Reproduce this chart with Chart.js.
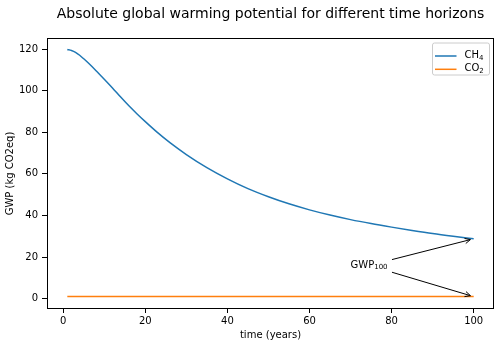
<!DOCTYPE html>
<html>
<head>
<meta charset="utf-8">
<script src="https://cdn.jsdelivr.net/npm/chart.js@4.4.0/dist/chart.umd.min.js"></script>
<style>
html, body { margin: 0; padding: 0; background: #fff; }
#wrap { width: 500px; height: 347px; }
</style>
</head>
<body>
<div id="wrap"><canvas id="gwpChart" width="500" height="347"></canvas></div>
<script>
// values
const years = [1, 2, 3, 4, 5, 6, 8, 10, 12, 14, 16, 18, 20, 23, 26, 30, 35, 40, 45, 50, 55, 60, 65, 70, 75, 80, 85, 90, 95, 100];
const ch4Gwp = [119.8, 119.3, 118.4, 117.0, 115.3, 113.5, 109.6, 105.5, 101.3, 96.9, 92.7, 88.8, 85.1, 79.8, 75.0, 69.3, 63.0, 57.6, 52.9, 49.0, 45.6, 42.7, 40.2, 38.0, 36.1, 34.4, 32.8, 31.3, 30.0, 28.8];
const co2Years = [1, 100];
const co2Gwp = [1, 1];
const xTicks = [0, 20, 40, 60, 80, 100];
const yTicks = [0, 20, 40, 60, 80, 100, 120];

const titleText = 'Absolute global warming potential for different time horizons';
const annotText = 'GWP₁₀₀';
const annotAt = { x: 70, y: 16 };

const FONT = "'DejaVu Sans', sans-serif";
const SUBS = '₀₁₂₃₄₅₆₇₈₉';

function toPoints(xs, ys) {
    return xs.map((v, i) => ({ x: v, y: ys[i] }));
}

// draws text with unicode subscript digits as smaller lowered digits, like mathtext
function drawSubText(ctx, text, x, y, size) {
    let cur = x;
    for (const ch of text) {
        const k = SUBS.indexOf(ch);
        if (k >= 0) {
            ctx.font = (size * 0.7) + 'px ' + FONT;
            ctx.fillText(String(k), cur, y + size * 0.22);
            cur += ctx.measureText(String(k)).width;
        } else {
            ctx.font = size + 'px ' + FONT;
            ctx.fillText(ch, cur, y);
            cur += ctx.measureText(ch).width;
        }
    }
    return cur - x;
}

function arrow(ctx, x1, y1, x2, y2) {
    const ang = Math.atan2(y2 - y1, x2 - x1);
    const head = 6;
    ctx.beginPath();
    ctx.moveTo(x1, y1);
    ctx.lineTo(x2, y2);
    ctx.moveTo(x2 - head * Math.cos(ang - 0.45), y2 - head * Math.sin(ang - 0.45));
    ctx.lineTo(x2, y2);
    ctx.lineTo(x2 - head * Math.cos(ang + 0.45), y2 - head * Math.sin(ang + 0.45));
    ctx.stroke();
}

const overlay = {
    id: 'overlay',
    afterDraw(chart) {
        const ctx = chart.ctx;
        const a = chart.chartArea;
        const x = chart.scales.x, y = chart.scales.y;
        ctx.save();

        // frame
        ctx.strokeStyle = '#000';
        ctx.lineWidth = 1;
        ctx.strokeRect(Math.round(a.left) + 0.5, Math.round(a.top) + 0.5,
            Math.round(a.right - a.left) - 1, Math.round(a.bottom - a.top) - 1);

        // title
        ctx.fillStyle = '#000';
        ctx.font = '14px ' + FONT;
        ctx.textAlign = 'center';
        ctx.textBaseline = 'middle';
        ctx.fillText(titleText, (a.left + a.right) / 2, 14);

        // legend
        const bx = a.right - 62, by = a.top + 4.5, bw = 57, bh = 32;
        ctx.beginPath();
        ctx.roundRect(bx + 0.5, by + 0.5, bw, bh, 2);
        ctx.fillStyle = 'rgba(255,255,255,0.8)';
        ctx.fill();
        ctx.strokeStyle = '#cccccc';
        ctx.stroke();
        ctx.textAlign = 'left';
        chart.data.datasets.forEach((ds, i) => {
            const ly = by + 13.5 + i * 13.3;
            ctx.strokeStyle = ds.borderColor;
            ctx.lineWidth = 1.5;
            ctx.beginPath();
            ctx.moveTo(bx + 3, ly);
            ctx.lineTo(bx + 24.5, ly);
            ctx.stroke();
            ctx.fillStyle = '#000';
            drawSubText(ctx, ds.label, bx + 32.5, ly - 0.5, 10);
        });

        // annotation
        ctx.textAlign = 'left';
        ctx.textBaseline = 'middle';
        ctx.fillStyle = '#000';
        const tx = x.getPixelForValue(annotAt.x), ty = y.getPixelForValue(annotAt.y);
        const tw = drawSubText(ctx, annotText, tx, ty, 10);
        const cx = tx + tw / 2, cy = ty;
        ctx.strokeStyle = '#000';
        ctx.lineWidth = 1;
        chart.data.datasets.forEach(ds => {
            const last = ds.data[ds.data.length - 1];
            const px = x.getPixelForValue(last.x), py = y.getPixelForValue(last.y);
            const t = (tw / 2 + 4.4) / (px - cx);
            const sx = cx + t * (px - cx), sy = cy + t * (py - cy);
            const len = Math.hypot(px - sx, py - sy);
            const ex = px - 3.4 * (px - sx) / len, ey = py - 3.4 * (py - sy) / len;
            arrow(ctx, sx, sy, ex, ey);
        });

        ctx.restore();
    }
};

const tickFont = { family: FONT, size: 10 };

new Chart(document.getElementById('gwpChart').getContext('2d'), {
    type: 'line',
    data: {
        datasets: [{
            label: 'CH₄',
            data: toPoints(years, ch4Gwp),
            borderColor: '#1f77b4',
            borderWidth: 1.5,
            pointRadius: 0,
            cubicInterpolationMode: 'monotone',
            fill: false
        }, {
            label: 'CO₂',
            data: toPoints(co2Years, co2Gwp),
            borderColor: '#ff7f0e',
            borderWidth: 1.5,
            pointRadius: 0,
            fill: false
        }]
    },
    options: {
        responsive: false,
        animation: false,
        devicePixelRatio: 1,
        layout: { padding: { top: 38, right: 6, left: 0, bottom: 0 } },
        plugins: {
            legend: { display: false },
            title: { display: false },
            tooltip: { enabled: false }
        },
        scales: {
            x: {
                type: 'linear',
                min: -3.95,
                max: 104.95,
                afterBuildTicks: s => { s.ticks = xTicks.map(v => ({ value: v })); },
                afterFit: s => { s.height = 38; },
                grid: { drawOnChartArea: false, drawTicks: true, tickLength: 4, color: '#000' },
                border: { display: false },
                ticks: { font: tickFont, color: '#000', padding: 2, maxRotation: 0 },
                title: { display: true, text: 'time (years)', font: tickFont, color: '#000', padding: { top: 0, bottom: 6 } }
            },
            y: {
                min: -4.95,
                max: 125.3,
                afterBuildTicks: s => { s.ticks = yTicks.map(v => ({ value: v })); },
                afterFit: s => { s.width = 47; },
                grid: { drawOnChartArea: false, drawTicks: true, tickLength: 5, color: '#000' },
                border: { display: false },
                ticks: { font: tickFont, color: '#000', padding: 4 },
                title: { display: true, text: 'GWP (kg CO2eq)', font: tickFont, color: '#000', padding: { top: 4, bottom: 0 } }
            }
        }
    },
    plugins: [overlay]
});
</script>
</body>
</html>
